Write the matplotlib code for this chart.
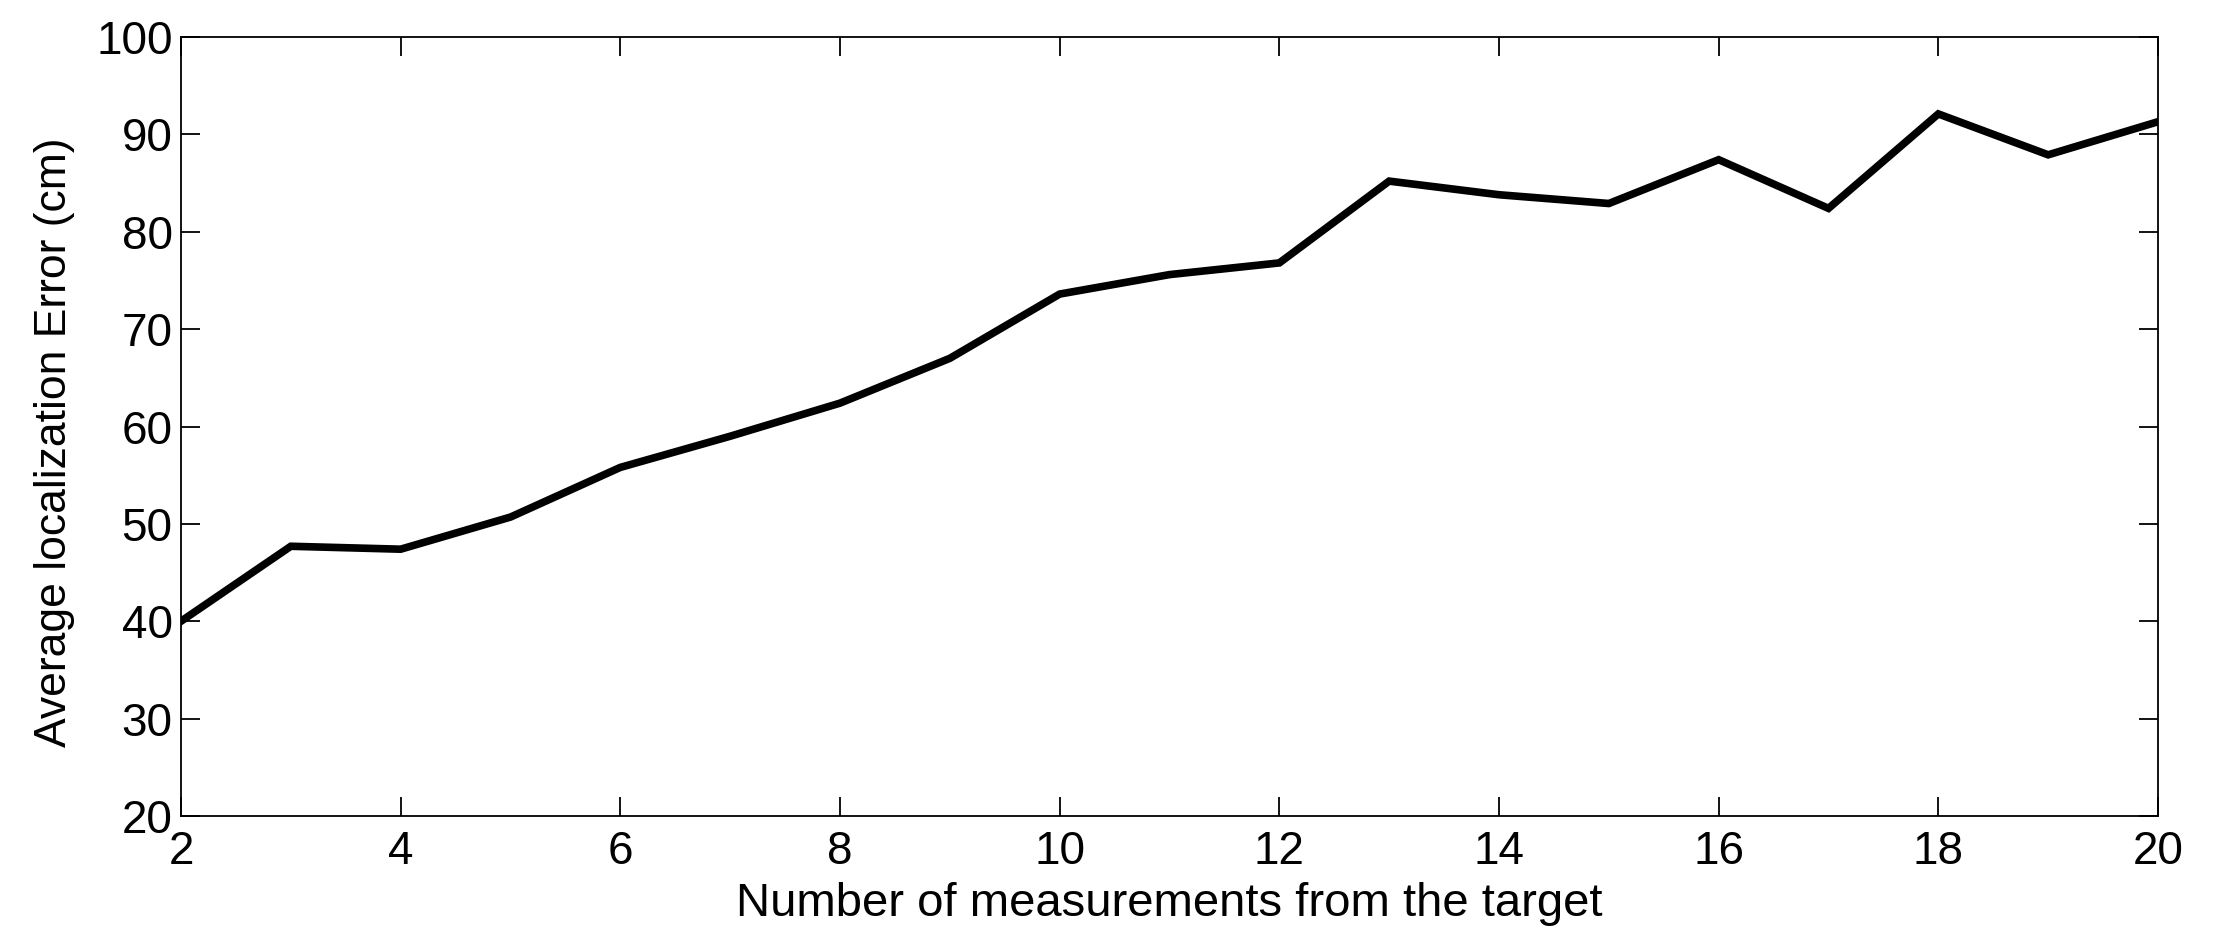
import matplotlib
matplotlib.use("Agg")
import matplotlib.pyplot as plt

# values
measurements = [2, 3, 4, 5, 6, 7, 8, 9, 10, 11, 12, 13, 14, 15, 16, 17, 18, 19, 20]
avg_error = [40.0, 47.7, 47.4, 50.7, 55.8, 59.0, 62.4, 67.0, 73.6, 75.6, 76.8,
             85.2, 83.8, 82.9, 87.4, 82.4, 92.1, 87.9, 91.3]

plt.rcParams['font.family'] = ['Liberation Sans', 'DejaVu Sans']

fig = plt.figure(figsize=(22.13, 9.5), dpi=100)
ax = fig.add_axes([181 / 2213, 1 - 816 / 950, (2158 - 181) / 2213, (816 - 37) / 950])

ax.plot(measurements, avg_error, color='black', linewidth=5.5, solid_joinstyle='miter')

ax.set_xlim(2, 20)
ax.set_ylim(20, 100)
ax.set_xticks(range(2, 21, 2))
ax.set_yticks(range(20, 101, 10))

ax.tick_params(direction='in', length=14, width=1.3, labelsize=33,
               top=True, right=True)
ax.tick_params(axis='x', pad=10)
ax.tick_params(axis='y', pad=6)
for s in ax.spines.values():
    s.set_linewidth(1.3)

ax.set_xlabel('Number of measurements from the target', fontsize=34, labelpad=6)
ax.set_ylabel('Average localization Error (cm)', fontsize=32, labelpad=15)
ax.yaxis.label.set_y(0.48)

fig.savefig('out.png', dpi=100)
